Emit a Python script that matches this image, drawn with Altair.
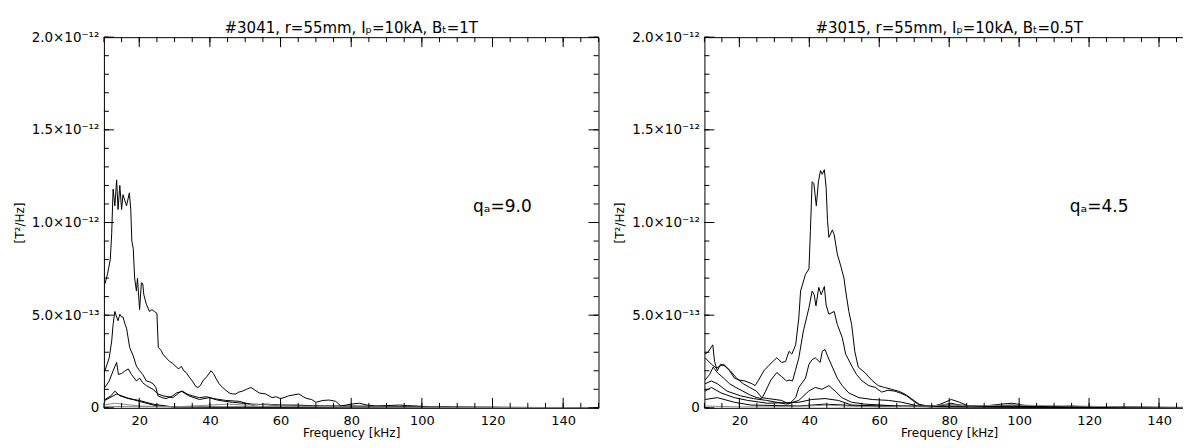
import altair as alt
import pandas as pd

SCALE = 1e-13  # values below are given in units of 1e-13 T^2/Hz

TITLE_L = "#3041, r=55mm, Iₚ=10kA, Bₜ=1T"
TITLE_R = "#3015, r=55mm, Iₚ=10kA, Bₜ=0.5T"
Q_L = "qₐ=9.0"
Q_R = "qₐ=4.5"
Q_POS_F = 114.5
Q_POS_V = 10.85

X_TICK_VALUES = [20, 40, 60, 80, 100, 120, 140]
X_MINOR = [10, 15, 20, 25, 30, 35, 40, 45, 50, 55, 60, 65, 70, 75, 80, 85, 90, 95,
           100, 105, 110, 115, 120, 125, 130, 135, 140, 145, 150]
Y_TICK_VALUES = [0, 5, 10, 15, 20]
Y_TICK_LABELS = ["0", "5.0×10⁻¹³", "1.0×10⁻¹²", "1.5×10⁻¹²", "2.0×10⁻¹²"]
Y_MINOR = [0, 1, 2, 3, 4, 5, 6, 7, 8, 9, 10, 11, 12, 13, 14, 15, 16, 17, 18, 19, 20]

# ---------------- left panel (#3041) ----------------
L1_f = [10.3, 11, 11.8, 12.2, 12.6, 13.1, 13.6, 14.0, 14.5, 15.0, 15.4, 16.4, 17.2, 17.6, 17.9,
        18.3, 18.7, 19.2, 19.5, 20.1, 20.6, 21.0, 21.3, 22.0, 22.9, 23.6, 24.3, 25.0, 25.4, 26.2,
        26.7, 27.6, 28.6, 29.5, 30.5, 31.2, 31.9, 32.6, 33.3, 34.2, 35.2, 36.0, 36.6, 37.3, 38.0,
        39.2, 40.3, 41.0, 41.7, 42.6, 43.6, 44.5, 45.5, 46.4, 47.3, 48.2, 49.2, 50.4, 51.6, 52.8,
        54.0, 55.8, 57.6, 58.8, 59.9, 61.0, 62.3, 63.8, 65.2, 66.4, 67.5, 68.8, 70, 72, 73.8,
        75.6, 77.1, 80, 82.3, 84.5, 87, 90, 93.7, 96, 98.4, 100, 102, 106, 110, 115, 120, 125,
        130, 135, 140, 145, 150]
L1_v = [6.7, 7.2, 8.0, 9.4, 11.8, 10.9, 12.3, 10.7, 12.0, 10.7, 11.5, 10.9, 11.6, 10.7, 9.0,
        8.6, 7.0, 6.3, 7.0, 5.3, 6.75, 6.7, 6.1, 5.6, 5.2, 5.3, 5.2, 5.1, 3.25, 3.1,
        2.9, 2.7, 2.5, 2.4, 2.2, 2.1, 2.25, 2.0, 1.9, 1.65, 1.4, 1.15, 1.1, 1.2, 1.45,
        1.7, 2.0, 1.85, 1.6, 1.3, 1.1, 0.95, 0.8, 0.75, 0.75, 0.85, 0.9, 1.0, 1.1, 0.95,
        0.8, 0.75, 0.55, 0.6, 0.5, 0.55, 0.65, 0.7, 0.75, 0.6, 0.5, 0.45, 0.3, 0.4, 0.42,
        0.35, 0.1, 0.2, 0.25, 0.15, 0.1, 0.12, 0.15, 0.12, 0.1, 0.08, 0.0, 0.05, 0.04, 0.03, 0.03, 0.02,
        0.02, 0.02, 0.02, 0.01, 0.01]

L2_f = [10.3, 11.5, 12.2, 12.6, 13.1, 13.6, 14.0, 14.5, 15.0, 15.4, 16.0, 16.4, 17.3, 18.3, 19.2,
        20.1, 21.0, 22.0, 23.0, 23.9, 24.7, 25.3, 26.5, 27.6, 29.5, 30.5, 32.3, 33.5, 35.0, 37.0,
        39.0, 41.0, 44.5, 48.3, 52.0, 56, 60, 65, 70, 80, 90, 100, 110, 130, 150]
L2_v = [2.0, 2.7, 3.6, 4.5, 5.2, 4.9, 4.7, 5.05, 4.9, 4.9, 4.5, 4.3, 3.25, 2.8, 2.25,
        2.0, 1.8, 1.45, 1.4, 1.3, 1.1, 0.65, 0.55, 0.5, 0.65, 0.8, 0.9, 0.75, 0.65, 0.55,
        0.6, 0.5, 0.4, 0.35, 0.15, 0.2, 0.15, 0.15, 0.1, 0.1, 0.08, 0.06, 0.03, 0.02, 0.01]

L3_f = [10.3, 11.5, 12.6, 13.6, 14.1, 15.0, 16.0, 16.9, 17.8, 19.2, 20.1, 21.0, 22.0, 23.9, 25.3,
        26.7, 29.5, 31.9, 34.0, 37.0, 39.8, 42.5, 46.4, 52, 58, 65, 75, 90, 110, 150]
L3_v = [1.1, 1.45, 2.0, 2.45, 1.8, 1.85, 2.0, 2.1, 1.8, 1.45, 1.6, 1.35, 1.2, 1.0, 0.75,
        0.65, 0.55, 0.9, 0.65, 0.45, 0.55, 0.4, 0.3, 0.2, 0.15, 0.1, 0.08, 0.05, 0.03, 0.01]

L4_f = [10.3, 12.0, 13.1, 14.5, 16.9, 20, 23.9, 27.6, 31, 40, 60, 100, 150]
L4_v = [0.45, 0.65, 0.9, 0.65, 0.5, 0.4, 0.2, 0.1, 0.0, 0.02, 0.02, 0.01, 0.0]

L5_f = [10.3, 13.6, 16.4, 20, 25, 30, 40, 60, 100, 150]
L5_v = [0.4, 0.75, 0.55, 0.35, 0.1, 0.05, 0.05, 0.03, 0.02, 0.0]

L6_f = [10, 13, 20, 30, 40, 45, 50, 55, 60, 70, 80, 100, 150]
L6_v = [0.15, 0.25, 0.1, 0.05, 0.15, 0.2, 0.15, 0.2, 0.12, 0.08, 0.05, 0.03, 0.01]

L7_f = [10, 20, 35, 50, 65, 80, 100, 120, 150]
L7_v = [0.08, 0.06, 0.05, 0.08, 0.06, 0.04, 0.03, 0.02, 0.01]

# ---------------- right panel (#3015) ----------------
RA_f = [10.2, 11.0, 12.4, 12.9, 13.7, 14.6, 15.9, 17.2, 18.6, 20.0, 21.6, 23.6, 24.5, 25.5, 27.0,
        28.5, 30.7, 32.1, 33.2, 34.2, 35.0, 36.1, 37.0, 37.5, 38.9, 39.9, 40.3, 40.8, 41.3, 42.0,
        42.6, 43.2, 43.7, 44.3, 44.8, 45.2, 45.6, 46.6, 47.1, 48.0, 49.0, 49.9, 50.4, 51.3, 52.1,
        53.0, 54.0, 55.9, 57.8, 59.7, 61.5, 63.5, 65.5, 67.3, 69.2, 72.0, 74.9, 77.5, 80.6, 83.0,
        85.5, 90, 95, 98, 101, 105, 110, 115, 120, 130, 140, 150]
RA_v = [2.9, 3.0, 3.4, 2.5, 2.0, 2.35, 2.25, 2.0, 1.6, 1.5, 1.45, 1.3, 1.2, 1.5, 2.0,
        2.3, 2.7, 2.45, 2.5, 3.05, 2.9, 3.4, 4.85, 6.3, 7.2, 7.5, 9.5, 12.2, 12.1, 10.9,
        12.2, 12.8, 12.6, 12.85, 11.9, 10.1, 9.2, 9.6, 9.35, 8.3, 7.65, 7.0, 6.3, 5.2, 4.5,
        3.05, 2.2, 1.9, 1.5, 1.2, 1.1, 1.0, 0.9, 0.75, 0.5, 0.1, 0.05, 0.2, 0.45, 0.3,
        0.1, 0.1, 0.2, 0.25, 0.15, 0.05, 0.05, 0.1, 0.05, 0.05, 0.03, 0.02]

RB_f = [10.2, 11.5, 12.5, 13.7, 15.5, 17.2, 19.0, 21.0, 23.0, 25.0, 26.4, 27.5, 29.0, 30.7, 32.0,
        33.5, 34.2, 35.2, 36.0, 37.0, 38.3, 39.2, 39.9, 40.8, 41.4, 41.9, 42.7, 43.4, 44.3, 44.8,
        45.6, 47.1, 48.0, 49.4, 50.4, 52.3, 53.5, 55.1, 57.0, 58.9, 60.7, 62.5, 64.5, 66.0, 67.8,
        69.5, 71.1, 74, 78, 80.5, 83, 88, 95, 98, 102, 110, 120, 135, 150]
RB_v = [1.5, 1.8, 2.2, 1.9, 1.6, 1.3, 1.1, 0.9, 0.7, 0.55, 0.5, 0.9, 1.5, 1.9, 1.7,
        1.45, 1.5, 1.45, 2.0, 2.7, 4.15, 4.85, 5.4, 6.3, 6.1, 5.5, 6.5, 6.1, 6.55, 5.55,
        5.05, 5.2, 4.5, 3.8, 2.9, 2.2, 1.8, 1.45, 1.2, 1.1, 0.85, 0.95, 0.9, 0.8, 0.65,
        0.4, 0.2, 0.1, 0.15, 0.25, 0.15, 0.08, 0.1, 0.15, 0.06, 0.04, 0.03, 0.02, 0.01]

RC_f = [10.2, 12.0, 13.4, 15.5, 17.4, 19.2, 21.1, 23.0, 24.9, 26.4, 28.3, 32.1, 34.2, 36.1, 37.0,
        38.9, 39.9, 40.8, 41.7, 43.1, 43.7, 44.5, 45.2, 46.6, 48.0, 49.4, 51.3, 54.2, 58.0, 62.7,
        66.5, 71.1, 76, 80.5, 85, 95, 110, 130, 150]
RC_v = [2.7, 2.35, 2.15, 2.35, 2.0, 1.6, 1.3, 1.1, 0.9, 0.55, 0.5, 0.4, 0.2, 0.55, 1.1,
        1.6, 2.35, 2.6, 2.7, 2.45, 3.05, 3.15, 2.8, 2.2, 1.6, 1.2, 0.8, 0.55, 0.45, 0.4,
        0.3, 0.1, 0.1, 0.2, 0.1, 0.1, 0.05, 0.03, 0.01]

RD_f = [10.2, 12.0, 13.7, 16.5, 20.3, 24.0, 27.8, 33.5, 37.0, 39.8, 41.7, 43.6, 45.6, 47.4, 49.3,
        52.1, 56, 65, 80, 100, 150]
RD_v = [1.3, 1.45, 1.3, 0.9, 0.65, 0.5, 0.4, 0.2, 0.4, 0.9, 1.1, 1.0, 1.2, 0.9, 0.55,
        0.3, 0.2, 0.1, 0.1, 0.05, 0.01]

RE_f = [10.2, 12.0, 14.8, 18.6, 22.4, 28, 37, 40.7, 44.5, 48.3, 52.1, 60, 80, 100, 150]
RE_v = [0.9, 1.1, 0.8, 0.55, 0.4, 0.25, 0.3, 0.45, 0.5, 0.4, 0.15, 0.1, 0.05, 0.03, 0.01]

RF_f = [10.2, 13.7, 18.6, 23.3, 37, 44.5, 55, 80, 100, 150]
RF_v = [0.45, 0.55, 0.3, 0.15, 0.1, 0.2, 0.1, 0.05, 0.02, 0.0]

RG_f = [10, 20, 30, 40, 45, 50, 60, 75, 80, 85, 98, 115, 130, 150]
RG_v = [0.1, 0.05, 0.05, 0.1, 0.15, 0.1, 0.05, 0.1, 0.2, 0.1, 0.15, 0.1, 0.05, 0.02]

LEFT_SERIES = [("L1", L1_f, L1_v, "k"), ("L2", L2_f, L2_v, "k"), ("L3", L3_f, L3_v, "k"),
               ("L4", L4_f, L4_v, "k"), ("L5", L5_f, L5_v, "k"), ("L6", L6_f, L6_v, "g"),
               ("L7", L7_f, L7_v, "g")]
RIGHT_SERIES = [("RA", RA_f, RA_v, "k"), ("RB", RB_f, RB_v, "k"), ("RC", RC_f, RC_v, "k"),
                ("RD", RD_f, RD_v, "k"), ("RE", RE_f, RE_v, "k"), ("RF", RF_f, RF_v, "k"),
                ("RG", RG_f, RG_v, "g")]

FONT = "DejaVu Sans"
H = 371


def make_df(series):
    rows = []
    for name, fs, vs, c in series:
        for f, v in zip(fs, vs):
            rows.append({"series": name, "f": f, "v": v * SCALE, "c": c})
    return pd.DataFrame(rows)


label_expr = "''"
for val, lab in zip(reversed(Y_TICK_VALUES), reversed(Y_TICK_LABELS)):
    label_expr = f"abs(datum.value - {val * SCALE}) < 1e-14 ? '{lab}' : ({label_expr})"

xscale = alt.Scale(domain=[10, 150], nice=False, zero=False)
yscale = alt.Scale(domain=[0, 20 * SCALE], nice=False, zero=False)


def panel(series, title, qtext, W):
    df = make_df(series)
    lines = alt.Chart(df).mark_line(strokeWidth=1, clip=True).encode(
        x=alt.X("f:Q", scale=xscale,
                axis=alt.Axis(values=X_TICK_VALUES, title="Frequency [kHz]", tickSize=0,
                              domain=False, grid=False, labelPadding=7, labelFontSize=13,
                              labelFont=FONT, titleFont=FONT, titleFontSize=12,
                              titleFontWeight="normal", titlePadding=0, labelColor="black",
                              titleColor="black")),
        y=alt.Y("v:Q", scale=yscale,
                axis=alt.Axis(values=[t * SCALE for t in Y_TICK_VALUES], labelExpr=label_expr,
                              title="[T²/Hz]", tickSize=0, domain=False, grid=False,
                              labelPadding=5, labelFontSize=13.5, labelFont=FONT,
                              titleFont=FONT, titleFontSize=12, titleFontWeight="normal",
                              titlePadding=5, labelColor="black", titleColor="black")),
        color=alt.Color("c:N", scale=alt.Scale(domain=["k", "g"], range=["#000000", "#8a8a8a"]),
                        legend=None),
        detail="series:N",
        order="f:Q",
    )
    q = alt.Chart(pd.DataFrame({"f": [Q_POS_F], "v": [Q_POS_V * SCALE], "t": [qtext]})).mark_text(
        align="left", baseline="middle", fontSize=17, font=FONT, color="black"
    ).encode(x=alt.X("f:Q", scale=xscale), y=alt.Y("v:Q", scale=yscale), text="t:N")

    xmaj = pd.DataFrame({"f": X_TICK_VALUES})
    xmin = pd.DataFrame({"f": X_MINOR})
    ymaj = pd.DataFrame({"v": [t * SCALE for t in Y_TICK_VALUES]})
    ymin = pd.DataFrame({"v": [t * SCALE for t in Y_MINOR]})
    tick_layers = []
    for d, ln in ((xmaj, 10), (xmin, 5)):
        tick_layers.append(alt.Chart(d).mark_rule(color="black", strokeWidth=1).encode(
            x=alt.X("f:Q", scale=xscale), y=alt.value(H), y2=alt.value(H - ln)))
        tick_layers.append(alt.Chart(d).mark_rule(color="black", strokeWidth=1).encode(
            x=alt.X("f:Q", scale=xscale), y=alt.value(0), y2=alt.value(ln)))
    for d, ln in ((ymaj, 10), (ymin, 5)):
        tick_layers.append(alt.Chart(d).mark_rule(color="black", strokeWidth=1).encode(
            y=alt.Y("v:Q", scale=yscale), x=alt.value(0), x2=alt.value(ln)))
        tick_layers.append(alt.Chart(d).mark_rule(color="black", strokeWidth=1).encode(
            y=alt.Y("v:Q", scale=yscale), x=alt.value(W), x2=alt.value(W - ln)))

    return alt.layer(lines, q, *tick_layers).properties(
        width=W, height=H,
        title=alt.TitleParams(title, fontSize=15, font=FONT, fontWeight="normal",
                              color="black", anchor="middle", offset=-6),
    )


chart = alt.hconcat(
    panel(LEFT_SERIES, TITLE_L, Q_L, 495),
    panel(RIGHT_SERIES, TITLE_R, Q_R, 490),
    spacing=13,
).properties(
    padding={"left": 4, "top": 12, "right": -12, "bottom": 0},
    background="white",
).configure_view(stroke="black", strokeWidth=1)

chart.save("out.html", embed_options={"renderer": "svg", "actions": False})
